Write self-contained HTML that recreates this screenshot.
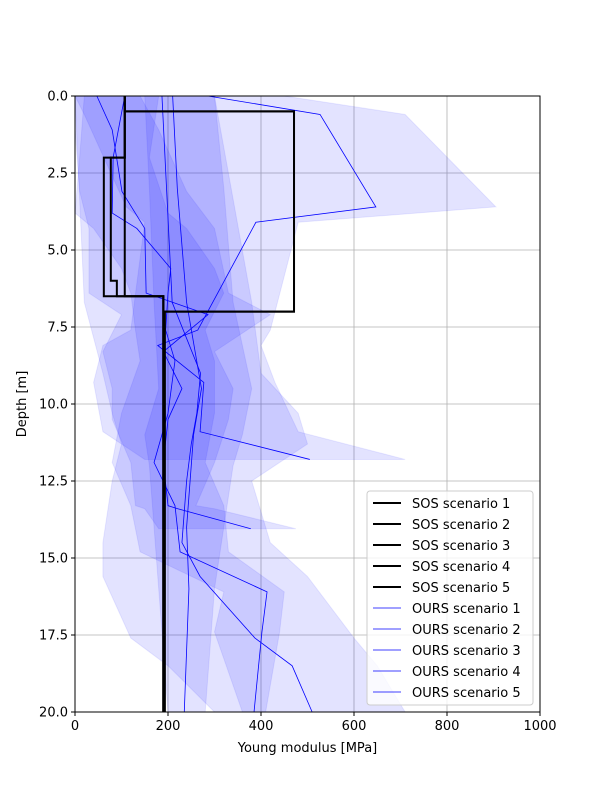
<!DOCTYPE html>
<html><head><meta charset="utf-8">
<style>
body{margin:0;background:#fff;}
svg text{font-family:"DejaVu Sans","Liberation Sans",sans-serif;font-size:13px;fill:#000;}
</style></head>
<body>
<svg id="chart" width="600" height="800" xmlns="http://www.w3.org/2000/svg"></svg>
<script>
// ---- data ----
const xTicks = [0, 200, 400, 600, 800, 1000];
const yTicks = [0, 2.5, 5, 7.5, 10, 12.5, 15, 17.5, 20];
const yTickLabels = ["0.0","2.5","5.0","7.5","10.0","12.5","15.0","17.5","20.0"];

const sos1Depths = [0, 0.5, 7, 20];       const sos1Vals = [107, 471, 193];
const sos2Depths = [0, 2, 6.5, 20];       const sos2Vals = [107, 62, 190];
const sos3Depths = [0, 2, 6, 6.5, 20];    const sos3Vals = [107, 77, 90, 190];
const sos4Depths = [0, 6.5, 20];          const sos4Vals = [107, 190];
const sos5Depths = [0, 0.5, 7, 20];       const sos5Vals = [107, 471, 193];

const ours1Depths = [0, 0.6, 3.6, 4.1, 7.6, 8.1, 9.3, 10.9, 11.8];
const ours1Vals   = [286, 527, 647, 389, 264, 178, 277, 269, 505];
const ours1Lower  = [0, 20, 110, 150, 120, 60, 40, 60, 150];
const ours1Upper  = [450, 710, 905, 480, 420, 400, 430, 480, 710];

const ours2Depths = [0, 1.1, 3.1, 4.3, 6.4, 7.1, 8.3, 9.5, 10.5, 11.9, 13.3, 13.4, 14.05];
const ours2Vals   = [47, 80, 101, 150, 153, 286, 190, 230, 200, 190, 200, 221, 378];
const ours2Lower  = [0, 0, 10, 30, 30, 100, 60, 80, 80, 120, 130, 150, 180];
const ours2Upper  = [140, 180, 240, 300, 330, 420, 300, 340, 330, 300, 260, 300, 475];

const ours3Depths = [0, 2, 3.8, 4.3, 5.6, 6.4, 7.6, 8.6, 10.3, 11.9, 13.3, 14.8, 16.1, 17.4, 20];
const ours3Vals   = [107, 82, 80, 133, 206, 200, 195, 215, 200, 170, 215, 226, 413, 402, 385];
const ours3Lower  = [20, 10, 0, 40, 100, 120, 130, 140, 100, 80, 120, 140, 320, 300, 360];
const ours3Upper  = [180, 160, 200, 240, 300, 320, 280, 300, 300, 280, 320, 330, 450, 440, 410];

const ours4Depths = [0, 6.7, 9, 10.3, 11.3, 12.5, 14.5, 15.6, 17.6, 18.5, 20];
const ours4Vals   = [187, 209, 270, 262, 250, 240, 230, 269, 387, 467, 510];
const ours4Lower  = [0, 20, 60, 80, 100, 80, 60, 60, 120, 200, 300];
const ours4Upper  = [300, 380, 400, 480, 500, 380, 420, 500, 600, 650, 710];

const ours5Depths = [0, 3, 6.7, 9.5, 11, 12, 14, 16, 18, 20];
const ours5Vals   = [210, 220, 240, 272, 255, 250, 240, 245, 240, 235];
const ours5Lower  = [150, 160, 170, 180, 150, 160, 170, 180, 190, 200];
const ours5Upper  = [300, 320, 340, 380, 360, 340, 320, 300, 290, 280];

// ---- scales ----
const L=75, R=540, T=96, B=712;
const xs = v => L + v/1000*(R-L);
const ys = d => T + d/20*(B-T);
const svg = document.getElementById('chart');
const NS = "http://www.w3.org/2000/svg";
function mk(tag, attrs, parent){
  const e=document.createElementNS(NS,tag);
  for(const k in attrs) e.setAttribute(k, attrs[k]);
  (parent||svg).appendChild(e); return e;
}

// grid
xTicks.forEach(v=>{
  const g=mk('line',{x1:xs(v),x2:xs(v),y1:T,y2:B,stroke:'#b0b0b0','stroke-width':0.8});
  
  
});
yTicks.forEach(v=>{
  const g=mk('line',{x1:L,x2:R,y1:ys(v),y2:ys(v),stroke:'#b0b0b0','stroke-width':0.8});
  
  
});

// bands
const bands=[[ours1Depths,ours1Lower,ours1Upper],[ours2Depths,ours2Lower,ours2Upper],[ours3Depths,ours3Lower,ours3Upper],[ours4Depths,ours4Lower,ours4Upper],[ours5Depths,ours5Lower,ours5Upper]];
bands.forEach((b,i)=>{
  const [d,lo,hi]=b;
  let pts=d.map((dd,j)=>xs(hi[j])+','+ys(dd));
  pts=pts.concat(d.slice().reverse().map((dd,j)=>xs(lo[d.length-1-j])+','+ys(dd)));
  const p=mk('polygon',{points:pts.join(' '),fill:'rgba(0,0,255,0.11)',stroke:'rgba(0,0,255,0.08)'});
  
  
});

// ours lines
const ours=[[ours1Depths,ours1Vals],[ours2Depths,ours2Vals],[ours3Depths,ours3Vals],[ours4Depths,ours4Vals],[ours5Depths,ours5Vals]];
ours.forEach((s,i)=>{
  const pts=s[0].map((d,j)=>xs(s[1][j])+','+ys(d)).join(' ');
  const p=mk('polyline',{points:pts,fill:'none',stroke:'#0000ff','stroke-width':0.8});
  
  
});

// sos step lines
const sos=[[sos1Depths,sos1Vals],[sos2Depths,sos2Vals],[sos3Depths,sos3Vals],[sos4Depths,sos4Vals],[sos5Depths,sos5Vals]];
sos.forEach((s,i)=>{
  const [d,v]=s; const pts=[];
  v.forEach((val,j)=>{pts.push(xs(val)+','+ys(d[j])); pts.push(xs(val)+','+ys(d[j+1]));});
  const p=mk('polyline',{points:pts.join(' '),fill:'none',stroke:'#000','stroke-width':2});
  
  
});

const frame=mk('rect',{x:L,y:T,width:R-L,height:B-T,fill:'none',stroke:'#000','stroke-width':1});



// ticks
xTicks.forEach(v=>{
  mk('line',{x1:xs(v),x2:xs(v),y1:B,y2:B+4,stroke:'#000'});
  const t=mk('text',{x:xs(v),y:B+18,'text-anchor':'middle'}); t.textContent=String(v);
  
  
});
yTicks.forEach((v,i)=>{
  mk('line',{x1:L-4,x2:L,y1:ys(v),y2:ys(v),stroke:'#000'});
  const t=mk('text',{x:L-7,y:ys(v)+4.5,'text-anchor':'end'}); t.textContent=yTickLabels[i];
  
  
});
const xt=mk('text',{x:(L+R)/2,y:752,'text-anchor':'middle'}); xt.textContent='Young modulus [MPa]';


const yt=mk('text',{x:26,y:(T+B)/2,'text-anchor':'middle',transform:'rotate(-90 26 '+((T+B)/2)+')'}); yt.textContent='Depth [m]';



// legend
const lg=mk('g',{});


mk('rect',{x:367,y:491,width:166,height:214,rx:3,fill:'rgba(255,255,255,0.8)',stroke:'#ccc'},lg);
const labels=['SOS scenario 1','SOS scenario 2','SOS scenario 3','SOS scenario 4','SOS scenario 5','OURS scenario 1','OURS scenario 2','OURS scenario 3','OURS scenario 4','OURS scenario 5'];
labels.forEach((lab,i)=>{
  const y=503+i*21;
  const g=mk('g',{},lg);
  
  
  const sos_=i<5;
  mk('line',{x1:373,x2:401,y1:y,y2:y,stroke:sos_?'#000':'#0000ff','stroke-width':sos_?2:0.8},g);
  const t=mk('text',{x:412,y:y+5},g); t.textContent=lab;
});
</script>
</body></html>
